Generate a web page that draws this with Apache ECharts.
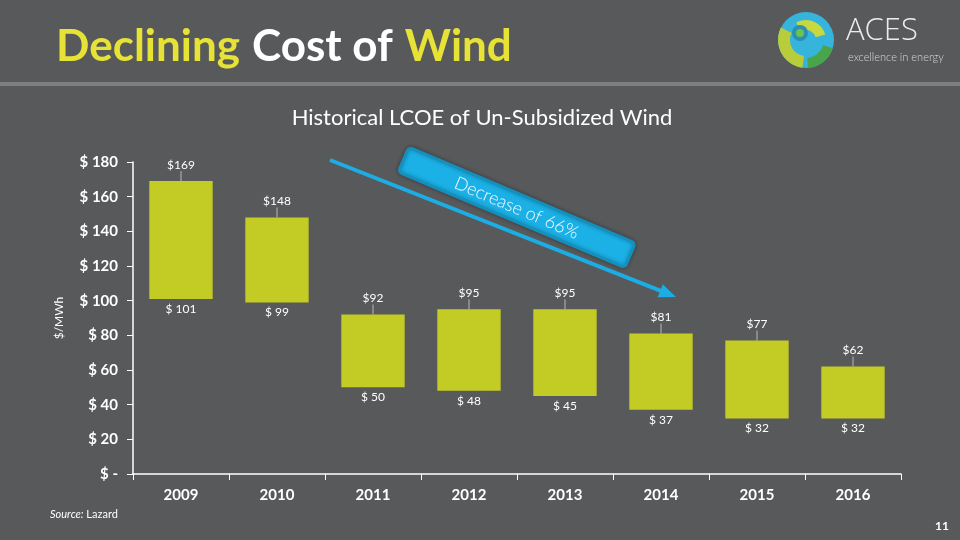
<!DOCTYPE html>
<html>
<head>
<meta charset="utf-8">
<title>Declining Cost of Wind</title>
<script src="https://cdn.jsdelivr.net/npm/echarts@6/dist/echarts.min.js"></script>
<style>
    html, body { margin: 0; padding: 0; background: #58595b; }
    #chart { width: 960px; height: 540px; }
</style>
</head>
<body>
<div id="chart"></div>
<script>
// data
const years = ["2009", "2010", "2011", "2012", "2013", "2014", "2015", "2016"];
const lowCost = [101, 99, 50, 48, 45, 37, 32, 32];
const highCost = [169, 148, 92, 95, 95, 81, 77, 62];
const rangeCost = highCost.map((v, i) => v - lowCost[i]);

const white = "#ffffff";
const yellow = "#e6e236";
const barColor = "#c3cb25";
const blue = "#1badE4";

// arrow geometry (decoration only)
const arrowFrom = [330, 160];
const arrowTip = [676, 297];
const ang = Math.atan2(arrowTip[1] - arrowFrom[1], arrowTip[0] - arrowFrom[0]);
const ux = Math.cos(ang), uy = Math.sin(ang);
const headLen = 17, headHalf = 7;
const baseX = arrowTip[0] - headLen * ux, baseY = arrowTip[1] - headLen * uy;

const chart = echarts.init(document.getElementById("chart"));

const option = {
    backgroundColor: "#58595b",
    animation: false,
    textStyle: { fontFamily: "Lato" },
    title: [
        {
            text: "{y|Declining}{s| }{w|Cost of}{s| }{y|Wind}",
            left: 51,
            top: 20,
            textStyle: {
                rich: {
                    y: { color: yellow, fontSize: 44, fontWeight: "bold", fontFamily: "Lato" },
                    w: { color: white, fontSize: 44, fontWeight: "bold", fontFamily: "Lato" },
                    s: { width: 12, fontSize: 44 }
                }
            }
        },
        {
            text: "Historical LCOE of Un-Subsidized Wind",
            left: 477,
            textAlign: "center",
            top: 102,
            textStyle: { color: white, fontSize: 22, fontWeight: "normal", fontFamily: "Lato" }
        }
    ],
    grid: { left: 133, right: 59, top: 162, bottom: 66 },
    xAxis: {
        type: "category",
        data: years,
        axisLine: { lineStyle: { color: white, width: 1.5 } },
        axisTick: { show: true, length: 6, lineStyle: { color: white } },
        axisLabel: { color: white, fontSize: 15, fontWeight: "bold", margin: 14 }
    },
    yAxis: {
        type: "value",
        min: 0,
        max: 180,
        interval: 20,
        name: "$/MWh",
        nameLocation: "middle",
        nameGap: 68,
        nameTextStyle: { color: white, fontSize: 12 },
        axisLine: { show: true, lineStyle: { color: white, width: 1.5 } },
        axisTick: { show: true, length: 6, lineStyle: { color: white } },
        splitLine: { show: false },
        axisLabel: {
            color: white,
            fontSize: 15,
            fontWeight: "bold",
            margin: 15,
            formatter: (v) => (v === 0 ? "$ -" : "$ " + v)
        }
    },
    series: [
        {
            name: "low",
            type: "bar",
            stack: "lcoe",
            data: lowCost,
            barWidth: "66%",
            itemStyle: { color: "transparent" },
            label: {
                show: true,
                position: "insideTop",
                distance: 4,
                color: white,
                fontSize: 12,
                formatter: (p) => "$ " + p.value
            }
        },
        {
            name: "range",
            type: "bar",
            stack: "lcoe",
            data: rangeCost,
            barWidth: "66%",
            itemStyle: { color: barColor },
            label: {
                show: true,
                position: "top",
                distance: 3,
                color: white,
                fontSize: 12,
                formatter: (p) => "$" + highCost[p.dataIndex]
            },
            labelLayout: { dy: -7 },
            labelLine: { show: true, lineStyle: { color: "#b8b8b8", width: 1 } }
        }
    ],
    graphic: [
        // separator under the slide title
        { type: "rect", shape: { x: 0, y: 82, width: 960, height: 4 }, style: { fill: "#7f7f80" } },
        // trend arrow
        {
            type: "line",
            shape: { x1: arrowFrom[0], y1: arrowFrom[1], x2: baseX + 2 * ux, y2: baseY + 2 * uy },
            style: { stroke: blue, lineWidth: 4 }
        },
        {
            type: "polygon",
            shape: {
                points: [
                    arrowTip,
                    [baseX - headHalf * uy, baseY + headHalf * ux],
                    [baseX + headHalf * uy, baseY - headHalf * ux]
                ]
            },
            style: { fill: blue }
        },
        // banner
        {
            type: "group",
            x: 517,
            y: 207,
            rotation: (-22.9 * Math.PI) / 180,
            children: [
                {
                    type: "rect",
                    shape: { x: -123, y: -13, width: 246, height: 27, r: 4 },
                    style: {
                        fill: "#1bb1e7",
                        stroke: "#1590bd",
                        lineWidth: 3,
                        shadowBlur: 4,
                        shadowColor: "rgba(0,0,0,0.3)"
                    }
                },
                {
                    type: "text",
                    x: 0,
                    y: 1,
                    style: {
                        text: "Decrease of 66%",
                        fill: "#f4fbff",
                        font: "300 18px Lato",
                        align: "center",
                        verticalAlign: "middle"
                    }
                }
            ]
        },
        // logo
        { type: "circle", shape: { cx: 806, cy: 40, r: 28 }, style: { fill: "#37b4dc" } },
        { type: "sector", shape: { cx: 806, cy: 40, r: 28, r0: 16, startAngle: 1.7, endAngle: 3.6 }, style: { fill: "#b9cd3a" } },
        { type: "sector", shape: { cx: 806, cy: 40, r: 28, r0: 18, startAngle: 0.3, endAngle: 1.5 }, style: { fill: "#4aa54a" } },
        { type: "sector", shape: { cx: 806, cy: 40, r: 20, r0: 10, startAngle: 4.2, endAngle: 6.0 }, style: { fill: "#c8d83e" } },
        { type: "circle", shape: { cx: 800, cy: 33, r: 8 }, style: { fill: "#2b8fb5" } },
        { type: "circle", shape: { cx: 800, cy: 33, r: 4 }, style: { fill: "#6cc24a" } },
        {
            type: "text",
            x: 846,
            y: 16,
            style: { text: "ACES", fill: "#ececec", font: "300 31px 'Open Sans'" }
        },
        {
            type: "text",
            x: 848,
            y: 52,
            style: { text: "excellence in energy", fill: "#d8d8d8", font: "300 11px Lato" }
        },
        // footer
        {
            type: "text",
            x: 50,
            y: 509,
            style: {
                text: "{i|Source:} Lazard",
                fill: white,
                font: "11px Lato",
                rich: { i: { fontStyle: "italic", fontSize: 11, fill: white, fontFamily: "Lato" } }
            }
        },
        {
            type: "text",
            x: 935,
            y: 520,
            style: { text: "11", fill: white, font: "bold 12px Lato" }
        }
    ]
};

chart.setOption(option);
window.addEventListener("resize", () => chart.resize());
</script>
</body>
</html>
